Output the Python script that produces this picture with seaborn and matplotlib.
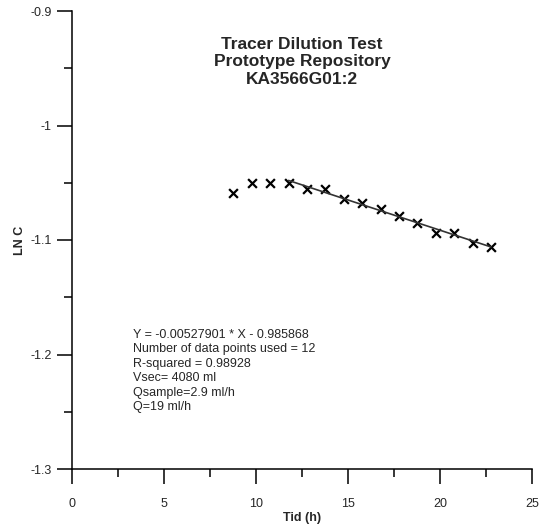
import seaborn as sns
import pandas as pd
import matplotlib.pyplot as plt
import numpy as np

# measured points (time in hours, ln of concentration)
tid = [8.77, 9.77, 10.77, 11.77, 12.77, 13.77, 14.77, 15.77, 16.77, 17.77, 18.77, 19.77, 20.77, 21.77, 22.77]
lnc = [-1.0587, -1.0500, -1.0500, -1.0500, -1.0557, -1.0557, -1.0645, -1.0674, -1.0732, -1.0790,
       -1.0849, -1.0936, -1.0936, -1.1024, -1.1064]

# linear fit over the last 12 points
slope = -0.00527901
intercept = -0.985868
n_used = 12

info = ["Y = -0.00527901 * X - 0.985868",
        "Number of data points used = 12",
        "R-squared = 0.98928",
        "Vsec= 4080 ml",
        "Qsample=2.9 ml/h",
        "Q=19 ml/h"]

sns.set_style("ticks")
plt.rcParams['font.family'] = ['Liberation Sans', 'DejaVu Sans']

df = pd.DataFrame({"tid": tid, "lnc": lnc})
fit = df.tail(n_used).iloc[[0, -1]].copy()
fit["lnc"] = slope * fit["tid"] + intercept

fig = plt.figure(figsize=(5.44, 5.27), dpi=100)
ax = fig.add_axes([72/544, 1-469/527, 460/544, 458/527])

sns.lineplot(data=fit, x="tid", y="lnc", color="#333333", linewidth=1.2, ax=ax)
sns.scatterplot(data=df, x="tid", y="lnc", marker="x", color="black", s=40, linewidth=1.6, ax=ax)

ax.set_xlim(0, 25)
ax.set_ylim(-1.3, -0.9)
ax.set_xticks([0, 5, 10, 15, 20, 25])
ax.set_xticks(np.arange(2.5, 25, 5), minor=True)
ax.set_yticks([-1.3, -1.2, -1.1, -1.0, -0.9])
ax.set_yticklabels(["-1.3", "-1.2", "-1.1", "-1", "-0.9"])
ax.set_yticks(np.arange(-1.25, -0.9, 0.1), minor=True)
ax.tick_params(axis="both", which="major", length=11, width=1.1, color="black", labelsize=9)
ax.tick_params(axis="both", which="minor", length=5.5, width=1.1, color="black")
ax.tick_params(axis="x", which="major", pad=10)
ax.tick_params(axis="y", which="major", pad=3.5)
sns.despine(ax=ax)
for s in ["left", "bottom"]:
    ax.spines[s].set_linewidth(1.1)
    ax.spines[s].set_color("black")

ax.set_xlabel("Tid (h)", fontsize=9, fontweight="bold", labelpad=1.5)
ax.set_ylabel("LN C", fontsize=9, fontweight="bold", labelpad=3)

ax.text(0.5, 1-(37-11)/458, "Tracer Dilution Test\nPrototype Repository\nKA3566G01:2",
        transform=ax.transAxes, ha="center", va="top", fontsize=12.5, fontweight="bold",
        linespacing=1.2)
ax.text(61/460, 1-(329-11)/458, "\n".join(info), transform=ax.transAxes,
        ha="left", va="top", fontsize=9, linespacing=1.27)

fig.savefig("out.png", dpi=100)
